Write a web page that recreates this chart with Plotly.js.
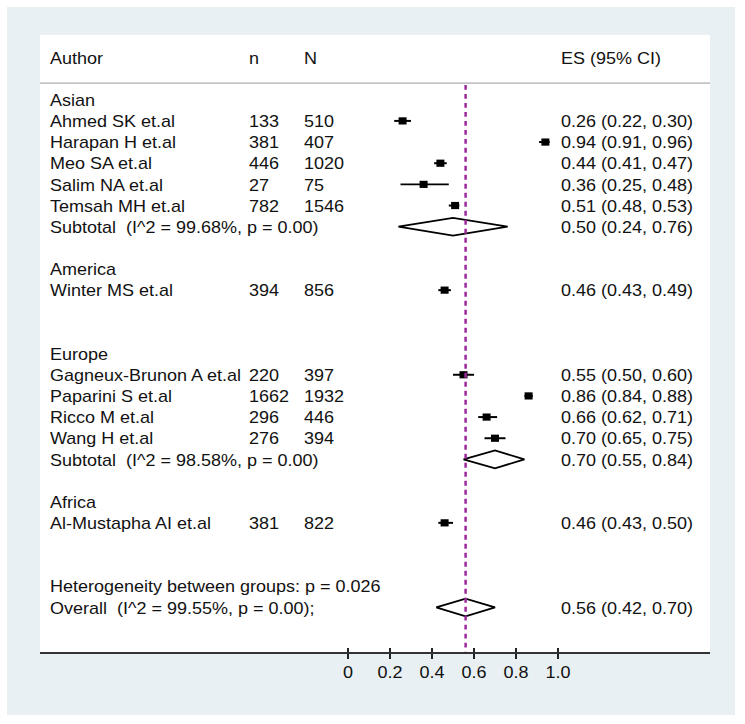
<!DOCTYPE html>
<html><head><meta charset="utf-8">
<script src="https://cdn.plot.ly/plotly-3.0.1.min.js"></script>
<style>
html,body{margin:0;padding:0;background:#fff;width:745px;height:724px;overflow:hidden}
#wrap{position:absolute;left:7px;top:7px;width:728px;height:708px;overflow:hidden}
#plot{width:728px;height:787px;transform:scaleY(0.89962);transform-origin:0 0}
</style></head>
<body><div id="wrap"><div id="plot"></div></div>
<script>
// ---------- data ----------
const groupNames = ['Asian', 'America', 'Europe', 'Africa'];
const authors = ['Ahmed SK et.al', 'Harapan H et.al', 'Meo SA et.al', 'Salim NA et.al', 'Temsah MH et.al',
  'Winter MS et.al', 'Gagneux-Brunon A et.al', 'Paparini S et.al', 'Ricco M et.al', 'Wang H et.al',
  'Al-Mustapha AI et.al'];
const studyGroup = ['Asian', 'Asian', 'Asian', 'Asian', 'Asian', 'America', 'Europe', 'Europe', 'Europe', 'Europe', 'Africa'];
const nEvents = [133, 381, 446, 27, 782, 394, 220, 1662, 296, 276, 381];
const nTotal = [510, 407, 1020, 75, 1546, 856, 397, 1932, 446, 394, 822];
const es = [0.26, 0.94, 0.44, 0.36, 0.51, 0.46, 0.55, 0.86, 0.66, 0.70, 0.46];
const ciLow = [0.22, 0.91, 0.41, 0.25, 0.48, 0.43, 0.50, 0.84, 0.62, 0.65, 0.43];
const ciHigh = [0.30, 0.96, 0.47, 0.48, 0.53, 0.49, 0.60, 0.88, 0.71, 0.75, 0.50];
const subGroups = ['Asian', 'Europe'];
const subI2 = [99.68, 98.58];
const subP = [0.00, 0.00];
const subES = [0.50, 0.70];
const subLow = [0.24, 0.55];
const subHigh = [0.76, 0.84];
const overallES = 0.56, overallLow = 0.42, overallHigh = 0.70, overallI2 = 99.55, overallP = 0.00;
const hetP = 0.026;
const headers = ['Author', 'n', 'N', 'ES (95% CI)'];
const tickVals = [0, 0.2, 0.4, 0.6, 0.8, 1.0];
const tickText = ['0', '0.2', '0.4', '0.6', '0.8', '1.0'];

// ---------- layout helpers ----------
const X0PX = 348, PXPERUNIT = 210;           // final pixel of x=0, pixels per unit
const pxToX = p => (p - X0PX) / PXPERUNIT;
const ROW0PX = 121, ROWPX = 21.15;           // final pixel of first study row, row pitch
const pxToRow = p => (p - ROW0PX) / ROWPX;
const TXTSHIFT = 0.1;                        // nudge text so cap centres sit on the row
const colAuthor = pxToX(50), colN = pxToX(249), colNN = pxToX(304), colES = pxToX(561);
const fmt = v => v.toFixed(2);
const ciText = (e, l, h) => fmt(e) + ' (' + fmt(l) + ', ' + fmt(h) + ')';
const NB = '\u00a0';

// ---------- rows ----------
const aY = [], aT = [], nY = [], nT = [], NY = [], NT = [], eY = [], eT = [];
const studyRow = [];
const diamonds = [];
let r = -1;
const headerRow = r - 2;
aY.push(headerRow); aT.push(headers[0]);
nY.push(headerRow); nT.push(headers[1]);
NY.push(headerRow); NT.push(headers[2]);
eY.push(headerRow); eT.push(headers[3]);
groupNames.forEach(g => {
  aY.push(r); aT.push(g); r++;
  authors.forEach((a, i) => {
    if (studyGroup[i] !== g) return;
    studyRow[i] = r;
    aY.push(r); aT.push(a);
    nY.push(r); nT.push(String(nEvents[i]));
    NY.push(r); NT.push(String(nTotal[i]));
    eY.push(r); eT.push(ciText(es[i], ciLow[i], ciHigh[i]));
    r++;
  });
  const si = subGroups.indexOf(g);
  if (si >= 0) {
    aY.push(r); aT.push('Subtotal' + NB + ' (I^2 = ' + subI2[si].toFixed(2) + '%, p = ' + fmt(subP[si]) + ')');
    eY.push(r); eT.push(ciText(subES[si], subLow[si], subHigh[si]));
    diamonds.push({e: subES[si], l: subLow[si], h: subHigh[si], row: r});
  }
  r += 2;
});
aY.push(r); aT.push('Heterogeneity between groups: p = ' + hetP.toFixed(3)); r++;
aY.push(r); aT.push('Overall' + NB + ' (I^2 = ' + overallI2.toFixed(2) + '%, p = ' + fmt(overallP) + ');');
eY.push(r); eT.push(ciText(overallES, overallLow, overallHigh));
diamonds.push({e: overallES, l: overallLow, h: overallHigh, row: r});

// ---------- traces ----------
const FONT = '"Liberation Sans", Arial, sans-serif';
const TXT = {family: FONT, size: 18, color: '#121212'};
const textTrace = (xv, ys, ts, xa) => ({
  type: 'scatter', mode: 'text', x: ys.map(() => xv), y: ys.map(v => v + TXTSHIFT), text: ts,
  textposition: 'middle right', textfont: TXT, cliponaxis: false, hoverinfo: 'skip',
  xaxis: xa || 'x', yaxis: 'y'
});
const DH = 0.42;
const dX = [], dY = [];
diamonds.forEach(d => {
  dX.push(d.l, d.e, d.h, d.e, d.l, null);
  dY.push(d.row, d.row - DH, d.row, d.row + DH, d.row, null);
});
const traces = [
  {type: 'scatter', mode: 'lines', x: dX, y: dY, line: {color: '#000', width: 2}, hoverinfo: 'skip', connectgaps: false},
  {type: 'scatter', mode: 'markers', x: es, y: studyRow,
   marker: {symbol: 'square', size: 8, color: '#000'},
   error_x: {type: 'data', symmetric: false, array: es.map((v, i) => ciHigh[i] - v),
             arrayminus: es.map((v, i) => v - ciLow[i]), color: '#000', thickness: 2.2, width: 0},
   hoverinfo: 'skip'},
  textTrace(colAuthor, aY, aT),
  textTrace(colN, nY, nT),
  textTrace(colNN, NY, NT),
  textTrace(colES, eY, eT, 'x2')
];

const yTop = pxToRow(35), yBot = pxToRow(652);
const layout = {
  width: 728, height: 787,
  margin: {l: 33, r: 25, t: 31.1, b: 70, pad: 0},
  paper_bgcolor: '#e9f0f3', plot_bgcolor: '#ffffff',
  showlegend: false,
  font: TXT,
  xaxis: {range: [pxToX(40), pxToX(710)], tickmode: 'array', tickvals: tickVals, ticktext: tickText,
          ticks: 'outside', ticklen: 5.5, tickwidth: 1.5, tickcolor: '#222',
          showline: true, linecolor: '#333', linewidth: 2, showgrid: false, zeroline: false,
          tickfont: TXT, fixedrange: true},
  xaxis2: {overlaying: 'x', matches: 'x', anchor: 'y', side: 'bottom', tickmode: 'array', tickvals: tickVals,
           ticks: 'inside', ticklen: 4.5, tickwidth: 1.5, tickcolor: '#222', showticklabels: false,
           showline: false, showgrid: false, zeroline: false, fixedrange: true},
  yaxis: {range: [yBot, yTop], visible: false, fixedrange: true},
  shapes: [
    {type: 'line', xref: 'x domain', x0: 0, x1: 1, yref: 'y', y0: pxToRow(83.3), y1: pxToRow(83.3),
     line: {color: '#c4c4c4', width: 2}},
    {type: 'line', xref: 'x', x0: overallES, x1: overallES, yref: 'y', y0: pxToRow(85), y1: yBot,
     line: {color: '#9a2a9a', width: 2.5, dash: '5.5px,4.5px'}}
  ]
};
Plotly.newPlot('plot', traces, layout, {displayModeBar: false, staticPlot: true});
</script></body></html>
